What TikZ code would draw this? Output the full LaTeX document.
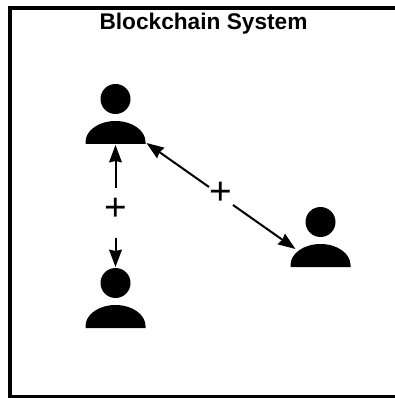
\documentclass[tikz,border=0pt]{standalone}
\usepackage{fontspec}
\setmainfont{Liberation Sans}
\usetikzlibrary{arrows.meta}
\begin{document}
\begin{tikzpicture}[
            x = 0.75pt, y = -0.75pt, % one unit is one pixel, y going down
            > = {Stealth[length=13pt, width=9.5pt, inset=1pt]}, % arrow head style
            line width = 1.5pt, % line style
            person/.pic = {
                \node[circle, fill, inner sep=0pt, minimum size=22.5pt] (-head) at (0,0){};
                \fill (-30,45) -- (-30,43) arc[start angle=180, end angle=360, x radius=30, y radius=21] -- (30,45) -- cycle;
                \coordinate (-foot) at (0,46);
                \coordinate (-corner) at (31,44);
                \coordinate (-left) at (-25,27);
            },
            plus/.style = {font=\fontsize{29}{29}\selectfont, inner sep=0pt},
        ]
        \useasboundingbox (0,0) rectangle (394,398);
        \node[draw, line width=3pt, minimum width=290.6pt, minimum height=291.4pt, inner sep=0pt] (frame) at (203.25,202.25){};
        \node[font=\bfseries\fontsize{17}{17}\selectfont] (title) at (203.5,24){Blockchain System};
        \pic (alice) at (115.5,99) {person};
        \pic (bob) at (115.5,283) {person};
        \pic (carol) at (320.5,222) {person};
        \node[plus] (plusa) at (115.5,209){+};
        \node[plus] (plusb) at (221,193){+};
        \coordinate (gapa) at (115.5,188);
        \coordinate (gapb) at (115.5,238);
        \coordinate (gapc) at (209,187);
        \coordinate (gapd) at (233,205);
        \draw[->] (gapa) -- (alice-foot);
        \draw[->] (gapb) -- (bob-head);
        \draw[->] (gapc) -- (alice-corner);
        \draw[->] (gapd) -- (carol-left);
        \end{tikzpicture}
\end{document}
